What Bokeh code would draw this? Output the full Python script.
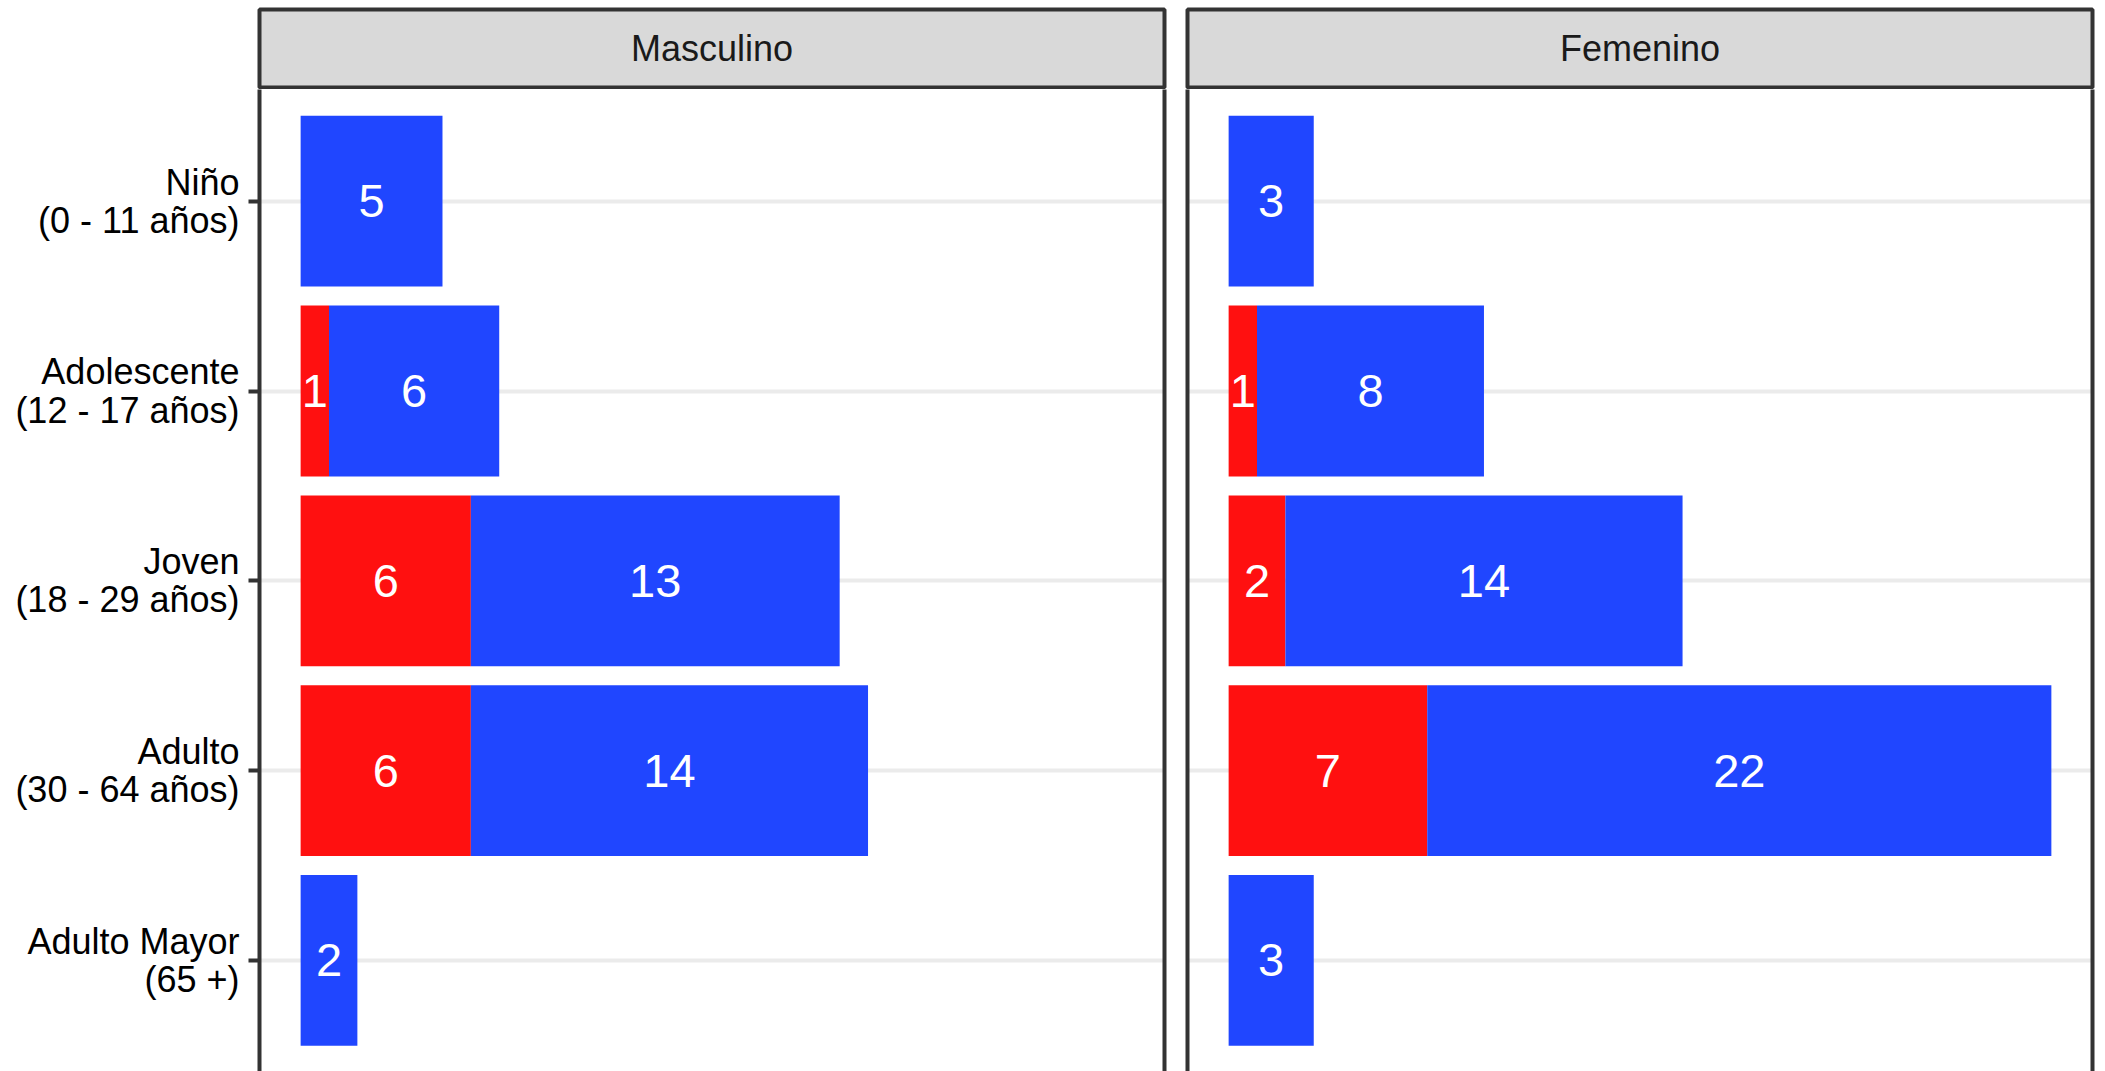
from bokeh.plotting import figure
from bokeh.layouts import row, column
from bokeh.models import ColumnDataSource, Range1d, FixedTicker, LinearAxis
from bokeh.core.properties import value
from bokeh.embed import file_html
from bokeh.resources import INLINE

# ---------------- data ----------------
categorias = [
    "Niño\n(0 - 11 años)",
    "Adolescente\n(12 - 17 años)",
    "Joven\n(18 - 29 años)",
    "Adulto\n(30 - 64 años)",
    "Adulto Mayor\n(65 +)",
]
paneles = ["Masculino", "Femenino"]
masculino_rojo = [0, 1, 6, 6, 0]
masculino_azul = [5, 6, 13, 14, 2]
femenino_rojo = [0, 1, 2, 7, 0]
femenino_azul = [3, 8, 14, 22, 3]

# ---------------- style ----------------
ROJO = "#ff1010"
AZUL = "#2046ff"
BORDE = "#333333"
FONT = "Liberation Sans"

STRIP_H = 89
PANEL_H = 982
PX_PER_BAND = 189.8
TOP_OFFSET = 111.7

n = len(categorias)
ypos = [n - i for i in range(n)]
totales = [r + a for r, a in zip(masculino_rojo + femenino_rojo, masculino_azul + femenino_azul)]
xmax = max(totales)
pad = 0.05 * xmax
y_top = n + TOP_OFFSET / PX_PER_BAND
y_bottom = y_top - PANEL_H / PX_PER_BAND


def strip(nombre, width, mb_left, mb_right):
    s = figure(width=width, height=STRIP_H, x_range=Range1d(0, 1), y_range=Range1d(0, 1),
               x_axis_location=None, y_axis_location=None,
               min_border_left=mb_left, min_border_right=mb_right,
               min_border_top=9, min_border_bottom=2,
               background_fill_color="#d9d9d9", border_fill_color="white",
               outline_line_color=BORDE, outline_line_width=4,
               output_backend="svg", toolbar_location=None)
    s.grid.visible = False
    s.text(x=[0.5], y=[0.5], text=[nombre], text_align="center", text_baseline="middle",
           text_font=value(FONT), text_font_size="36px", text_color="#1a1a1a")
    return s


def panel(rojo, azul, width, mb_left, mb_right, etiquetas):
    p = figure(width=width, height=PANEL_H,
               x_range=Range1d(-pad, xmax + pad), y_range=Range1d(y_bottom, y_top),
               x_axis_location=None, y_axis_location="left",
               min_border_left=mb_left, min_border_right=mb_right,
               min_border_top=0, min_border_bottom=0,
               outline_line_color=None, background_fill_color="white",
               output_backend="svg", toolbar_location=None)
    ys, lefts, rights, cols, labs = [], [], [], [], []
    for i in range(n):
        r, a = rojo[i], azul[i]
        if r > 0:
            ys.append(ypos[i]); lefts.append(0); rights.append(r); cols.append(ROJO); labs.append(str(r))
        if a > 0:
            ys.append(ypos[i]); lefts.append(r); rights.append(r + a); cols.append(AZUL); labs.append(str(a))
    src = ColumnDataSource(dict(y=ys, left=lefts, right=rights, color=cols, lab=labs,
                                xm=[(l + rr) / 2 for l, rr in zip(lefts, rights)]))
    p.hbar(y="y", left="left", right="right", height=0.9, fill_color="color",
           line_color=None, source=src)
    p.text(x="xm", y="y", text="lab", source=src, text_align="center", text_baseline="middle",
           text_font=value(FONT), text_font_size="47px", text_color="white")

    p.xgrid.visible = False
    p.ygrid.ticker = FixedTicker(ticks=ypos)
    p.ygrid.grid_line_color = "#ebebeb"
    p.ygrid.grid_line_width = 4

    ax = p.yaxis[0]
    ax.axis_line_color = BORDE
    ax.axis_line_width = 4
    ax.minor_tick_line_color = None
    if etiquetas:
        ax.ticker = FixedTicker(ticks=ypos)
        ax.major_label_overrides = {y: c for y, c in zip(ypos, categorias)}
        ax.major_label_text_font = FONT
        ax.major_label_text_font_size = "36px"
        ax.major_label_text_color = "black"
        ax.major_label_text_line_height = 0.93
        ax.major_label_standoff = 9
        ax.major_tick_line_color = BORDE
        ax.major_tick_line_width = 4
        ax.major_tick_out = 11
        ax.major_tick_in = 0
    else:
        ax.ticker = FixedTicker(ticks=[])
        ax.major_label_standoff = 0
        ax.major_tick_line_color = None
        ax.major_tick_out = 0
        ax.major_tick_in = 0

    rax = LinearAxis(ticker=FixedTicker(ticks=[]), axis_line_color=BORDE, axis_line_width=4,
                     major_tick_line_color=None, minor_tick_line_color=None,
                     major_tick_out=0, major_tick_in=0, major_label_standoff=0)
    p.add_layout(rax, "right")
    return p


W1, L1, R1 = 1175, 259, 11
W2, L2, R2 = 930, 12, 13

s1 = strip(paneles[0], W1, L1, R1)
s2 = strip(paneles[1], W2, L2, R2)
p1 = panel(masculino_rojo, masculino_azul, W1, L1, R1, True)
p2 = panel(femenino_rojo, femenino_azul, W2, L2, R2, False)

layout = row(column(s1, p1, spacing=0), column(s2, p2, spacing=0), spacing=0)

open("out.html", "w").write(file_html(layout, INLINE))
